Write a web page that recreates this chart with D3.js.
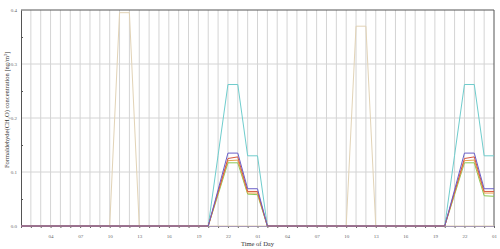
<!DOCTYPE html>
<html>
<head>
<meta charset="utf-8">
<script src="https://cdn.jsdelivr.net/npm/d3@7"></script>
<style>
  body { margin: 0; background: #fff; }
  text { font-family: "Liberation Serif", "DejaVu Serif", serif; }
</style>
</head>
<body>
<div id="chart"></div>
<script>
// hours since 01:00 on the first day, 0..48
const hours = d3.range(0, 49)
const hourLabels = hours.map(h => String((h + 1) % 24).padStart(2, "0"))
const labelledHours = d3.range(3, 49, 3)
const yTicks = [0, 0.1, 0.2, 0.3, 0.4]

const seriesNames = ["tan", "cyan", "green", "orange", "red", "purple"]
const tanValues = [0,0,0,0,0,0,0,0,0,0,0.395,0.395,0,0,0,0,0,0,0,0,0,0,0,0,0,0,0,0,0,0,0,0,0,0,0.37,0.37,0,0,0,0,0,0,0,0,0,0,0,0,0]
const cyanValues = [0,0,0,0,0,0,0,0,0,0,0,0,0,0,0,0,0,0,0,0,0.131,0.262,0.262,0.13,0.13,0,0,0,0,0,0,0,0,0,0,0,0,0,0,0,0,0,0,0,0.131,0.262,0.262,0.13,0.13]
const greenValues = [0,0,0,0,0,0,0,0,0,0,0,0,0,0,0,0,0,0,0,0,0.058,0.117,0.117,0.059,0.058,0,0,0,0,0,0,0,0,0,0,0,0,0,0,0,0,0,0,0,0.058,0.117,0.117,0.056,0.055]
const orangeValues = [0,0,0,0,0,0,0,0,0,0,0,0,0,0,0,0,0,0,0,0,0.061,0.121,0.122,0.061,0.061,0,0,0,0,0,0,0,0,0,0,0,0,0,0,0,0,0,0,0,0.061,0.121,0.122,0.061,0.061]
const redValues = [0,0,0,0,0,0,0,0,0,0,0,0,0,0,0,0,0,0,0,0,0.063,0.125,0.128,0.064,0.064,0,0,0,0,0,0,0,0,0,0,0,0,0,0,0,0,0,0,0,0.063,0.125,0.128,0.064,0.064]
const purpleValues = [0,0,0,0,0,0,0,0,0,0,0,0,0,0,0,0,0,0,0,0,0.067,0.135,0.135,0.069,0.069,0,0,0,0,0,0,0,0,0,0,0,0,0,0,0,0,0,0,0,0.067,0.135,0.135,0.069,0.069]

const svgWidth = 500
const svgHeight = 249

let margin = { top: 10, right: 6, bottom: 23, left: 21 }
let width = svgWidth - margin.left - margin.right
let height = svgHeight - margin.top - margin.bottom

let svg = d3.select("#chart")
  .append("svg")
  .attr("width", svgWidth)
  .attr("height", svgHeight)

let chartGroup = svg.append("g")
  .attr("transform", `translate(${margin.left}, ${margin.top})`)

let xScale = d3.scaleLinear().domain([0, 48]).range([0, width])
let yScale = d3.scaleLinear().domain([0, 0.4]).range([height, 0])

// vertical grid every hour
chartGroup.append("g")
  .selectAll("line")
  .data(hours.slice(1, 48))
  .enter()
  .append("line")
  .attr("x1", d => xScale(d)).attr("x2", d => xScale(d))
  .attr("y1", 0).attr("y2", height)
  .attr("stroke", "#d4d4d4")

// horizontal grid
chartGroup.append("g")
  .selectAll("line")
  .data([0.1, 0.2, 0.3])
  .enter()
  .append("line")
  .attr("x1", 0).attr("x2", width)
  .attr("y1", d => yScale(d)).attr("y2", d => yScale(d))
  .attr("stroke", "#d4d4d4")

// x axis: hour ticks, labels every 3 hours
let xAxis = chartGroup.append("g")
  .attr("transform", `translate(0, ${height})`)
  .call(d3.axisBottom(xScale).tickValues(hours).tickSize(2).tickFormat(""))
xAxis.select(".domain").attr("stroke", "#6a5fb5")
xAxis.selectAll(".tick line").attr("stroke", "#666")

chartGroup.append("g")
  .attr("transform", `translate(0, ${height})`)
  .call(d3.axisBottom(xScale).tickValues(labelledHours).tickSize(0).tickPadding(8)
    .tickFormat(d => hourLabels[d]))
  .call(g => g.select(".domain").remove())
  .selectAll("text")
  .style("font-size", "5px")
  .attr("fill", "#666")

// y axis
let yAxis = chartGroup.append("g")
  .call(d3.axisLeft(yScale).tickValues(yTicks).tickSize(0).tickPadding(4).tickFormat(d3.format(".1f")))
yAxis.select(".domain").attr("stroke", "#555")
yAxis.selectAll("text").style("font-size", "5px").attr("fill", "#666")

chartGroup.append("g")
  .call(d3.axisRight(yScale).tickValues([0.05, 0.15, 0.25, 0.35]).tickSize(2).tickFormat(""))
  .call(g => g.select(".domain").remove())
  .selectAll(".tick line").attr("stroke", "#555")

// frame top and right
chartGroup.append("line")
  .attr("x1", 0).attr("x2", width).attr("y1", 0).attr("y2", 0)
  .attr("stroke", "#555")
chartGroup.append("line")
  .attr("x1", width).attr("x2", width).attr("y1", 0).attr("y2", height)
  .attr("stroke", "#555")

// lines
let seriesData = {
  tan: tanValues, cyan: cyanValues, green: greenValues,
  orange: orangeValues, red: redValues, purple: purpleValues
}
let colors = {
  tan: "#e2d3b6", cyan: "#6fcdcd", green: "#88c956",
  orange: "#e9a14a", red: "#d8573e", purple: "#6a5fc8"
}
let line = d3.line().x((d, i) => xScale(i)).y(d => yScale(d))

chartGroup.append("g")
  .selectAll("path")
  .data(seriesNames)
  .enter()
  .append("path")
  .attr("d", d => line(seriesData[d]))
  .attr("fill", "none")
  .attr("stroke", d => colors[d])
  .attr("stroke-width", 1)

// axis titles
svg.append("text")
  .attr("x", margin.left + width / 2)
  .attr("y", 246)
  .attr("text-anchor", "middle")
  .style("font-size", "6.5px")
  .attr("fill", "#333")
  .text("Time of Day")

svg.append("text")
  .attr("transform", `translate(9, ${margin.top + 100}) rotate(-90)`)
  .attr("text-anchor", "middle")
  .style("font-size", "6.5px")
  .attr("fill", "#333")
  .text("Formaldehyde(CH₂O) concentration [ng/m³]")
</script>
</body>
</html>
